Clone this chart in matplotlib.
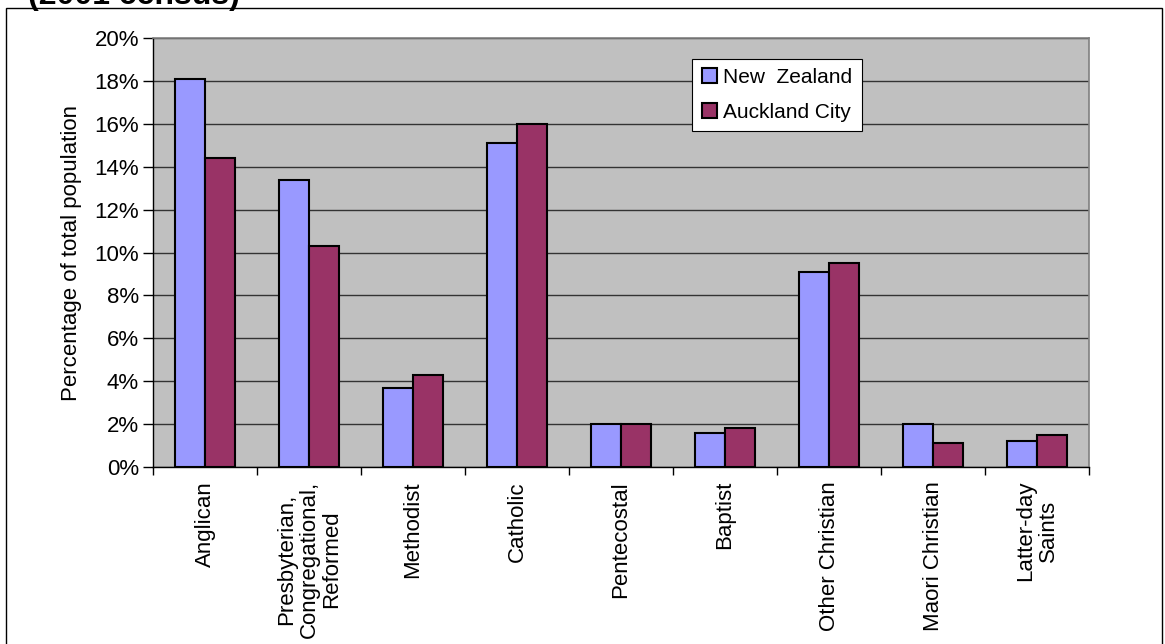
import numpy as np
import matplotlib.pyplot as plt
from matplotlib.patches import Rectangle
from matplotlib.ticker import FuncFormatter, MultipleLocator

plt.rcParams['font.family'] = ['Liberation Sans', 'DejaVu Sans']

# religious affiliation, % of total population (2001 census)
categories = ["Anglican", "Presbyterian,\nCongregational,\nReformed", "Methodist",
              "Catholic", "Pentecostal", "Baptist", "Other Christian",
              "Maori Christian", "Latter-day\nSaints"]
new_zealand = [18.1, 13.4, 3.7, 15.1, 2.0, 1.6, 9.1, 2.0, 1.2]
auckland_city = [14.4, 10.3, 4.3, 16.0, 2.0, 1.8, 9.5, 1.1, 1.5]
series_names = ["New  Zealand", "Auckland City"]

fs = 16

fig = plt.figure(figsize=(11.65, 6.44), dpi=100)
ax = fig.add_axes([0.1313, 0.2748, 0.8035, 0.6662])

# outer chart frame (bottom runs off the image)
fig.patches.append(Rectangle((6 / 1165, -0.2), 1156 / 1165, 1.2 - 8 / 644,
                             transform=fig.transFigure, fill=False,
                             edgecolor='black', linewidth=1.0))
fig.text(28 / 1165, 1 - 4 / 644, "(2001 census)", fontsize=23,
         fontweight='bold', va='baseline', ha='left')

x = np.arange(len(categories))
w = 0.29
ax.bar(x - w / 2, new_zealand, w, color='#9999FF', edgecolor='black',
       linewidth=1.5, label=series_names[0], zorder=3)
ax.bar(x + w / 2, auckland_city, w, color='#993366', edgecolor='black',
       linewidth=1.5, label=series_names[1], zorder=3)

ax.set_facecolor('#C0C0C0')
ax.set_xlim(-0.5, len(categories) - 0.5)
ax.set_ylim(0, 20)
ax.yaxis.set_major_locator(MultipleLocator(2))
ax.yaxis.set_major_formatter(FuncFormatter(lambda v, p: f"{v:.0f}%"))
ax.grid(axis='y', color='#333333', linewidth=1.0, zorder=1)
ax.set_axisbelow(True)

ax.set_xticks(x)
ax.set_xticklabels(categories, rotation=90, ha='center', va='top',
                   multialignment='center', fontsize=fs, linespacing=1.1)
ax.tick_params(axis='x', which='major', length=0, pad=10)
ax.set_xticks(np.arange(len(categories) + 1) - 0.5, minor=True)
ax.tick_params(axis='x', which='minor', length=6, width=1, direction='out')
ax.tick_params(axis='y', length=7, width=1, direction='out', labelsize=fs, pad=3)

for side in ('top', 'right'):
    ax.spines[side].set_color('#808080')
    ax.spines[side].set_linewidth(1.2)
for side in ('left', 'bottom'):
    ax.spines[side].set_color('black')
    ax.spines[side].set_linewidth(1.0)

ax.set_ylabel("Percentage of total population", fontsize=fs, labelpad=9)

leg = ax.legend(loc='upper left', bbox_to_anchor=(0.576, 0.952), fontsize=15,
                frameon=True, fancybox=False, edgecolor='black',
                framealpha=1, handlelength=0.75, handleheight=0.75,
                handletextpad=0.3, borderpad=0.45, labelspacing=0.75,
                borderaxespad=0)
leg.get_frame().set_linewidth(0.8)

fig.savefig("out.png", dpi=100)
